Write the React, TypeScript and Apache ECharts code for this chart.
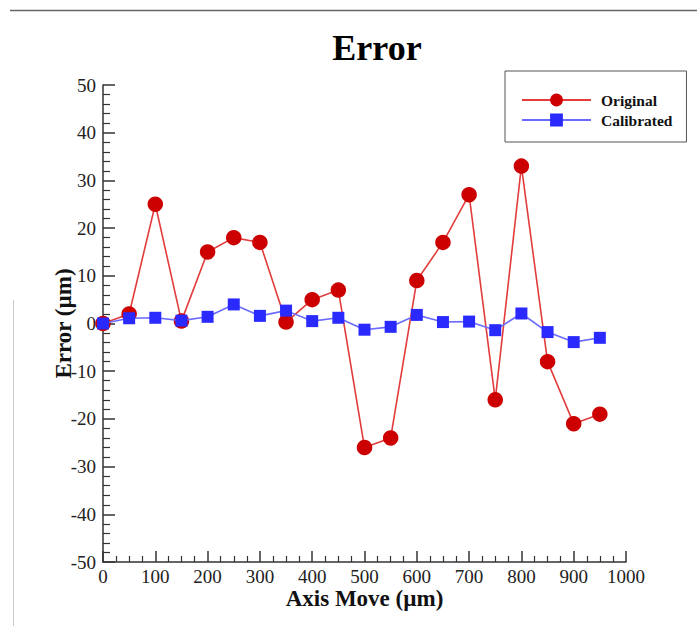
import React, { useEffect, useRef } from "react";
import * as echarts from "echarts";

const axisMove = [0, 50, 100, 150, 200, 250, 300, 350, 400, 450, 500, 550, 600, 650, 700, 750, 800, 850, 900, 950];
const originalError = [0, 2, 25, 0.5, 15, 18, 17, 0.3, 5, 7, -26, -24, 9, 17, 27, -16, 33, -8, -21, -19];
const calibratedError = [0, 1.1, 1.2, 0.6, 1.4, 4, 1.6, 2.7, 0.5, 1.2, -1.3, -0.7, 1.8, 0.3, 0.4, -1.4, 2.1, -1.8, -3.9, -3];

const FONT = "'Liberation Serif', 'Times New Roman', serif";

export default function App() {
  const ref = useRef<HTMLDivElement>(null);
  useEffect(() => {
    if (!ref.current) return;
    const chart = echarts.init(ref.current, null, { renderer: "svg" });
    const pair = (ys: number[]) => axisMove.map((x, i) => [x, ys[i]]);
    chart.setOption({
      animation: false,
      backgroundColor: "#ffffff",
      title: {
        text: "Error",
        left: 372,
        textAlign: "center",
        top: 25,
        textStyle: { fontFamily: FONT, fontWeight: "bold", fontSize: 36, color: "#000" },
      },
      legend: {
        orient: "vertical",
        left: 505,
        top: 71,
        padding: [21, 14, 14, 16],
        itemWidth: 69,
        itemHeight: 16,
        itemGap: 4,
        borderColor: "#555",
        borderWidth: 1,
        textStyle: { fontFamily: FONT, fontWeight: "bold", fontSize: 15.5, color: "#111", padding: [0, 0, 0, 5] },
        data: ["Original", "Calibrated"],
      },
      grid: { left: 103, right: 71, top: 85, bottom: 64, containLabel: false },
      xAxis: {
        type: "value",
        min: 0,
        max: 1000,
        interval: 100,
        name: "Axis Move (µm)",
        nameLocation: "middle",
        nameGap: 25,
        nameMoveOverlap: false,
        nameTextStyle: { fontFamily: FONT, fontWeight: "bold", fontSize: 23, color: "#111" },
        axisLine: { show: true, onZero: false, lineStyle: { color: "#333", width: 1.5 } },
        axisTick: { show: true, inside: true, length: 11, lineStyle: { color: "#333", width: 1.5 } },
        minorTick: { show: true, splitNumber: 4, length: 6, lineStyle: { color: "#333", width: 1.2 } },
        axisLabel: { fontFamily: FONT, fontSize: 19, color: "#222", margin: 5, formatter: (v: number) => String(v) },
        splitLine: { show: false },
      },
      yAxis: {
        type: "value",
        min: -50,
        max: 50,
        interval: 10,
        name: "Error (µm)",
        nameLocation: "middle",
        nameGap: 28,
        nameMoveOverlap: false,
        nameTextStyle: { fontFamily: FONT, fontWeight: "bold", fontSize: 23, color: "#111" },
        axisLine: { show: true, onZero: false, lineStyle: { color: "#333", width: 1.5 } },
        axisTick: { show: true, inside: true, length: 12, lineStyle: { color: "#333", width: 1.5 } },
        minorTick: { show: true, splitNumber: 5, length: 7, lineStyle: { color: "#333", width: 1.2 } },
        axisLabel: { fontFamily: FONT, fontSize: 19, color: "#222", margin: 7 },
        splitLine: { show: false },
      },
      series: [
        {
          name: "Original",
          type: "line",
          data: pair(originalError),
          symbol: "circle",
          symbolSize: 15.5,
          itemStyle: { color: "#cc0000" },
          lineStyle: { color: "#e23c3c", width: 1.6 },
          z: 2,
        },
        {
          name: "Calibrated",
          type: "line",
          data: pair(calibratedError),
          symbol: "rect",
          symbolSize: 12,
          itemStyle: { color: "#2a2aff" },
          lineStyle: { color: "#6a6aff", width: 1.6 },
          z: 3,
        },
      ],
      graphic: [
        {
          type: "line",
          shape: { x1: 10, y1: 10.5, x2: 697, y2: 10.5 },
          style: { stroke: "#666", lineWidth: 1.5 },
        },
        {
          type: "line",
          shape: { x1: 13.5, y1: 300, x2: 13.5, y2: 626 },
          style: { stroke: "#c8c8c8", lineWidth: 1 },
        },
      ],
    });
    return () => chart.dispose();
  }, []);
  return (
    <div
      ref={ref}
      style={{ position: "fixed", left: 0, top: 0, width: 697, height: 626, background: "#fff" }}
    />
  );
}
